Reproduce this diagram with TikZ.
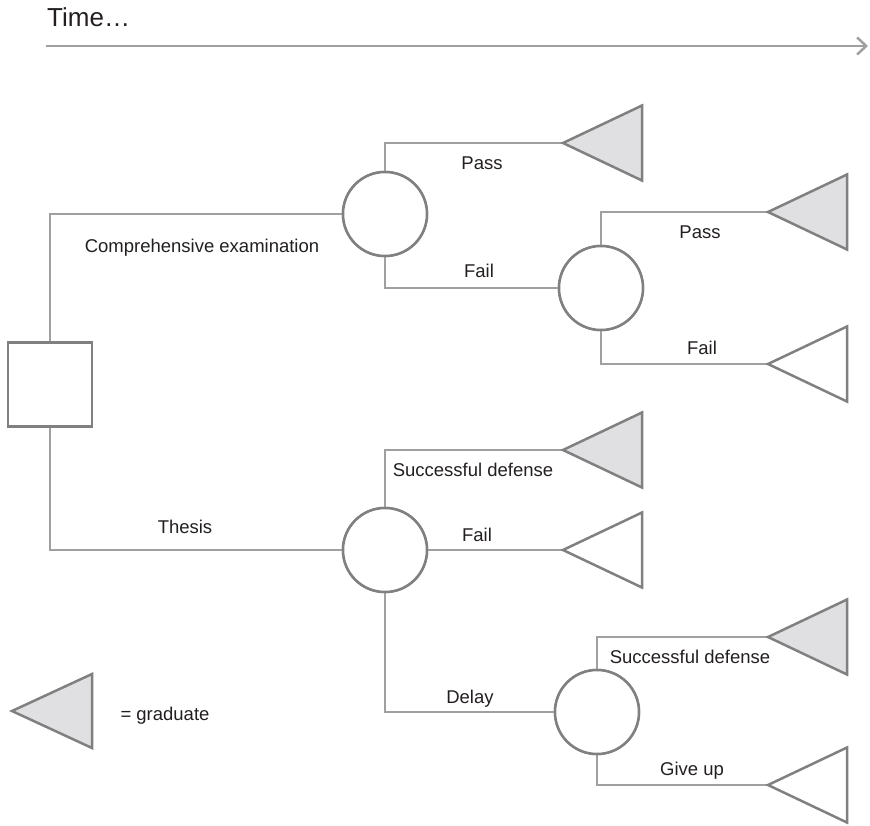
\documentclass[tikz,border=0pt]{standalone}
\usepackage{fontspec}
\setmainfont{Liberation Sans}
\usetikzlibrary{arrows.meta}
\definecolor{shapegray}{HTML}{808080}
\definecolor{linegray}{HTML}{A0A0A0}
\definecolor{trifill}{HTML}{E0E0E2}
\definecolor{txt}{HTML}{231F20}
\tikzset{
  conn/.style={draw=linegray, line width=1.4pt},
  decision/.style={draw=shapegray, line width=2.5pt, fill=white, minimum size=84pt, inner sep=0pt},
  chance/.style={circle, draw=shapegray, line width=2.5pt, fill=white, minimum size=84pt, inner sep=0pt},
  gradtri/.style={draw=shapegray, line width=2.5pt, fill=trifill, line join=miter},
  endtri/.style={draw=shapegray, line width=2.5pt, fill=white, line join=miter},
  lbl/.style={font=\fontsize{18.5}{22}\selectfont, text=txt, anchor=base, inner sep=0pt},
}
\begin{document}
\begin{tikzpicture}[x=1pt,y=-1pt]
\useasboundingbox (0,0) rectangle (870,825);
% time axis
\node[font=\fontsize{26}{30}\selectfont, text=txt, anchor=base west, inner sep=0pt] (time) at (47,26) {Time…};
\coordinate (ts) at (46,46);
\coordinate (te) at (868,46);
\draw[draw=linegray, line width=2.5pt, -{Straight Barb[length=9pt,width=17pt,line width=2.5pt]}] (ts) -- (te);

% shapes
\node[decision] (sq) at (50,384.5) {};
\node[chance] (c1) at (385,214) {};
\node[chance] (c2) at (601,288) {};
\node[chance] (c3) at (385,550) {};
\node[chance] (c4) at (597,712) {};

\coordinate (t1) at (563,143);
\coordinate (t2) at (768,212);
\coordinate (t3) at (768,364);
\coordinate (t4) at (563,450);
\coordinate (t5) at (563,550);
\coordinate (t6) at (768,637);
\coordinate (t7) at (768,785);
\coordinate (tl) at (12,711);

% connectors
\draw[conn] (sq.north) |- (c1.west);
\draw[conn] (sq.south) |- (c3.west);
\draw[conn] (c1.north) |- (t1);
\draw[conn] (c1.south) |- (c2.west);
\draw[conn] (c2.north) |- (t2);
\draw[conn] (c2.south) |- (t3);
\draw[conn] (c3.north) |- (t4);
\draw[conn] (c3.east) -- (t5);
\draw[conn] (c3.south) |- (c4.west);
\draw[conn] (c4.north) |- (t6);
\draw[conn] (c4.south) |- (t7);

% redraw shapes on top
\node[decision] at (sq) {};
\node[chance] at (c1) {};
\node[chance] at (c2) {};
\node[chance] at (c3) {};
\node[chance] at (c4) {};

% triangles
\draw[gradtri] (t1) -- ++(79,-37.5) -- ++(0,75) -- cycle;
\draw[gradtri] (t2) -- ++(79,-37.5) -- ++(0,75) -- cycle;
\draw[endtri] (t3) -- ++(79,-37.5) -- ++(0,75) -- cycle;
\draw[gradtri] (t4) -- ++(79,-37.5) -- ++(0,75) -- cycle;
\draw[endtri] (t5) -- ++(79,-37.5) -- ++(0,75) -- cycle;
\draw[gradtri] (t6) -- ++(79,-37.5) -- ++(0,75) -- cycle;
\draw[endtri] (t7) -- ++(79,-37.5) -- ++(0,75) -- cycle;
\draw[gradtri] (tl) -- ++(80,-37) -- ++(0,74) -- cycle;

% labels
\node[lbl] (l1) at (482,169) {Pass};
\node[lbl] (l2) at (202,252.5) {Comprehensive examination};
\node[lbl] (l3) at (479,277) {Fail};
\node[lbl] (l4) at (700,238.5) {Pass};
\node[lbl] (l5) at (702,354.5) {Fail};
\node[lbl] (l6) at (473,476.5) {Successful defense};
\node[lbl] (l7) at (477,541.5) {Fail};
\node[lbl] (l8) at (185,533.5) {Thesis};
\node[lbl] (l9) at (470,703.5) {Delay};
\node[lbl] (l10) at (690,663) {Successful defense};
\node[lbl] (l11) at (692,775) {Give up};
\node[lbl] (l12) at (165,720) {= graduate};
\end{tikzpicture}
\end{document}
